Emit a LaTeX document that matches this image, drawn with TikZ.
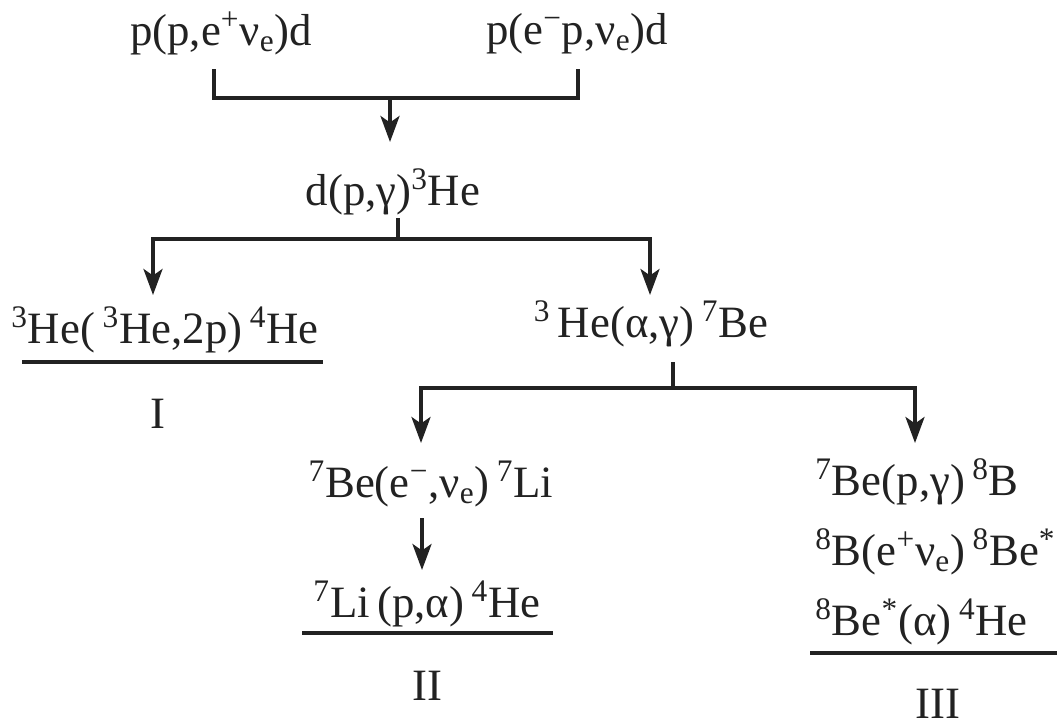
\documentclass[tikz,border=0pt]{standalone}
\usepackage{fontspec}
\setmainfont{Liberation Serif}
\usetikzlibrary{arrows.meta, positioning, calc}
\definecolor{cInk}{RGB}{34,34,34}
\tikzset{
    reaction/.style={inner sep=0pt, anchor=base, text=cInk},
    branch/.style  ={reaction, anchor=base west},
    link/.style    ={draw=cInk, line width=2.1pt},
    flowarrow/.style={link, -{Stealth[length=5.2mm, width=3.8mm, inset=1.3mm]}},
    endrule/.style ={draw=cInk, line width=2.7pt},
}

\begin{document}
\begin{tikzpicture}[x=0.02cm, y=-0.02cm,
        every node/.style={font=\fontsize{25.5}{30}\selectfont}]
    \useasboundingbox (0,0) rectangle (1057,727);
    % start of the chain
    \node[reaction] (pp)  at (221,45) {p(p,e\textsuperscript{+}ν\textsubscript{e})d};
    \node[reaction] (pep) at (577,44) {p(e\textsuperscript{−}p,ν\textsubscript{e})d};
    \node[reaction] (dpg) at (393,205) {d(p,γ)\textsuperscript{3}He};
    % first split
    \node[reaction] (heI) at (165,343) {\textsuperscript{3}He(\,\textsuperscript{3}He,2p)\,\textsuperscript{4}He};
    \node[reaction] (heA) at (651,337) {\textsuperscript{3}\,He(α,γ)\,\textsuperscript{7}Be};
    \node[reaction] (chainI) at (158,428) {I};
    % second split
    \node[reaction] (beE) at (431,497) {\textsuperscript{7}Be(e\textsuperscript{−},ν\textsubscript{e})\,\textsuperscript{7}Li};
    \node[reaction] (liP) at (427,617) {\textsuperscript{7}Li\,(p,α)\,\textsuperscript{4}He};
    \node[reaction] (chainII) at (427,700) {II};
    \node[branch] (beP) at (815,495) {\textsuperscript{7}Be(p,γ)\,\textsuperscript{8}B};
    \node[branch] (bE)  at (815,565) {\textsuperscript{8}B(e\textsuperscript{+}ν\textsubscript{e})\,\textsuperscript{8}Be\textsuperscript{*}};
    \node[branch] (beA) at (815,635) {\textsuperscript{8}Be\textsuperscript{*}(α)\,\textsuperscript{4}He};
    \node[reaction] (chainIII) at (938,718) {III};

    \coordinate (jA) at (390,98);
    \coordinate (jB) at (398,239);
    \coordinate (jC) at (673,388);

    \draw[link] ($(pp.base)+(-7,24)$) |- (jA) -| ($(pep.base)+(1,25)$);
    \draw[flowarrow] (jA) -- ($(dpg.base)+(-3,-63)$);
    \draw[link] ($(dpg.base)+(5,13)$) -- (jB);
    \draw[flowarrow] (jB) -| ($(heI.base)+(-12,-48)$);
    \draw[flowarrow] (jB) -| ($(heA.base)+(-1,-42)$);
    \draw[link] ($(heA.base)+(22,25)$) -- (jC);
    \draw[flowarrow] (jC) -| ($(beE.base)+(-10,-54)$);
    \draw[flowarrow] (jC) -| ($(beP.base west)+(100,-52)$);
    \draw[flowarrow] ($(beE.base)+(-9,21)$) -- ($(liP.base)+(-5,-47)$);

    % end of each chain
    \draw[endrule] ($(heI.base)+(-143,19)$) -- ($(heI.base)+(158,19)$);
    \draw[endrule] ($(liP.base)+(-125,16)$) -- ($(liP.base)+(126,16)$);
    \draw[endrule] ($(beA.base west)+(-5,18)$) -- ($(beA.base west)+(242,18)$);
\end{tikzpicture}
\end{document}
